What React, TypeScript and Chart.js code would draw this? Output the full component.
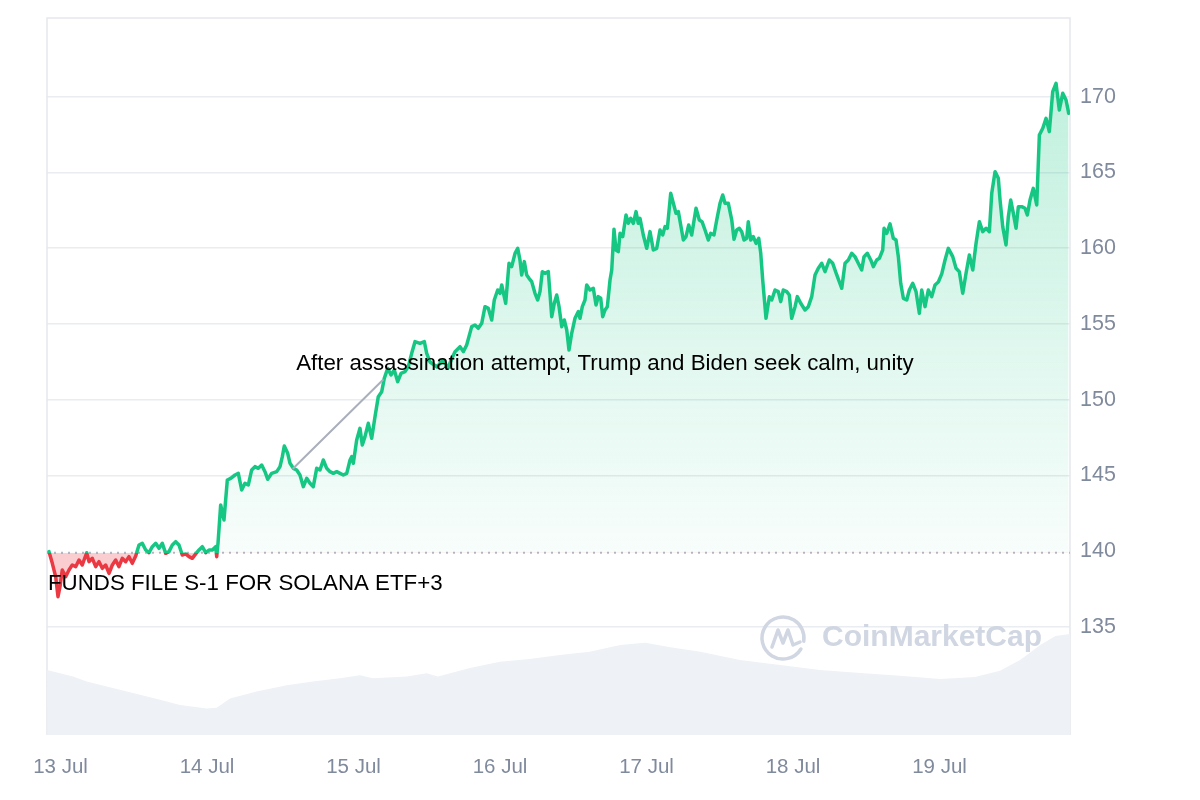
import React, { useEffect, useRef } from 'react';
import { Chart, registerables } from 'chart.js';

Chart.register(...registerables);

// Time in hours since 13 Jul 00:00, SOL price in USD
const hours = [
  -1.88, -1.34, -0.79, -0.41, -0.08, 0.29, 0.85, 1.39, 1.93, 2.49, 3.03, 3.57, 4.29, 4.67, 5.21, 5.77, 6.31, 6.85, 7.4, 7.95,
  8.49, 9.04, 9.58, 10.12, 10.68, 11.22, 11.76, 12.32, 12.86, 13.4, 13.96, 14.5, 15.04, 15.6, 16.14, 16.68, 17.23, 17.77, 18.32, 18.87,
  19.41, 19.95, 20.51, 21.05, 21.59, 22.15, 22.69, 23.23, 23.79, 24.33, 24.87, 25.42, 25.59, 25.8, 26.24, 26.78, 27.33, 27.88, 28.59, 29.13,
  29.68, 30.22, 30.77, 31.32, 31.86, 32.4, 32.96, 33.5, 33.94, 34.6, 35.42, 35.96, 36.34, 36.66, 37.22, 37.6, 38.14, 38.69, 39.23, 39.78,
  40.33, 40.87, 41.41, 41.97, 42.51, 43.05, 43.61, 44.15, 44.69, 45.25, 45.79, 46.33, 46.89, 47.43, 47.7, 47.97, 48.52, 49.06, 49.44, 49.88,
  50.42, 50.98, 51.52, 52.06, 52.62, 53.04, 53.6, 54.14, 54.68, 55.24, 55.78, 56.44, 56.98, 57.53, 58.07, 58.89, 59.6, 59.99, 60.53, 61.68,
  62.66, 63.48, 64.14, 64.63, 65.45, 65.99, 66.54, 67.36, 67.9, 68.44, 69.0, 69.54, 70.08, 70.64, 71.06, 71.62, 72.0, 72.28, 72.93, 73.47,
  73.91, 74.46, 74.9, 75.27, 75.55, 75.98, 76.37, 76.75, 77.19, 77.73, 78.17, 78.55, 78.93, 79.37, 79.91, 80.47, 80.89, 81.29, 81.67, 82.11,
  82.53, 82.93, 83.3, 83.74, 84.28, 84.83, 85.1, 85.48, 85.92, 86.2, 86.74, 87.28, 87.73, 88.1, 88.5, 88.82, 89.2, 89.58, 90.02, 90.3,
  90.67, 91.0, 91.38, 91.66, 92.1, 92.64, 93.02, 93.41, 93.84, 94.28, 94.65, 94.93, 95.47, 96.03, 96.57, 97.11, 97.67, 98.21, 98.65, 99.03,
  99.41, 99.96, 100.39, 100.83, 101.21, 101.6, 102.03, 102.47, 102.91, 103.4, 104.11, 104.65, 105.09, 105.58, 106.12, 106.51, 107.05, 107.5, 108.04, 108.48,
  108.86, 109.4, 109.96, 110.33, 110.77, 111.2, 111.59, 111.97, 112.41, 112.67, 113.07, 113.49, 113.94, 114.38, 114.71, 115.03, 115.57, 116.12, 116.51, 117.05,
  117.59, 117.98, 118.41, 118.97, 119.39, 119.78, 120.33, 120.7, 121.26, 121.96, 122.5, 123.06, 123.6, 124.14, 124.7, 125.24, 125.94, 126.5, 127.16, 127.98,
  128.52, 129.06, 129.61, 130.15, 130.69, 131.25, 131.63, 132.17, 132.73, 133.15, 133.71, 134.14, 134.69, 134.91, 135.35, 135.89, 136.43, 136.87, 137.25, 137.64,
  138.07, 138.63, 139.05, 139.61, 140.15, 140.69, 141.08, 141.62, 142.16, 142.72, 143.26, 143.8, 144.36, 144.9, 145.44, 146.16, 146.7, 147.24, 147.8, 148.34,
  148.88, 149.44, 149.98, 150.52, 151.07, 151.62, 152.16, 152.55, 153.09, 153.63, 153.91, 154.35, 154.89, 155.27, 155.66, 156.09, 156.53, 156.91, 157.46, 158.0,
  158.38, 158.82, 159.36, 159.92, 160.35, 160.91, 161.45, 161.98, 162.54, 163.08, 163.62, 164.18, 164.72, 165.16,
];

const prices = [
  139.97, 139.2, 138.32, 137.0, 137.66, 138.76, 138.32, 138.76, 139.09, 138.98, 139.42, 139.09, 139.9, 139.31, 139.53, 138.98, 139.31, 138.87, 139.09, 138.54,
  139.09, 139.42, 138.98, 139.53, 139.31, 139.64, 139.2, 139.68, 140.41, 140.52, 140.08, 139.9, 140.3, 140.52, 140.19, 140.52, 139.86, 139.97, 140.41, 140.63,
  140.41, 139.75, 139.82, 139.64, 139.53, 139.82, 140.08, 140.3, 139.9, 140.08, 140.08, 140.3, 139.64, 140.52, 143.05, 142.06, 144.7, 144.81, 145.03, 145.14,
  144.04, 144.48, 144.37, 145.36, 145.58, 145.47, 145.69, 145.25, 144.75, 145.14, 145.25, 145.58, 146.24, 146.94, 146.46, 145.8, 145.47, 145.36, 145.03, 144.26,
  144.81, 144.48, 144.26, 145.47, 145.36, 146.02, 145.47, 145.25, 145.14, 145.25, 145.14, 145.03, 145.14, 146.02, 146.24, 145.8, 147.34, 148.11, 147.01, 147.56,
  148.44, 147.45, 148.88, 150.2, 150.53, 151.41, 152.07, 151.63, 151.96, 151.19, 151.74, 151.85, 152.18, 153.06, 153.83, 153.72, 153.83, 153.06, 152.49, 152.16,
  152.62, 152.09, 152.75, 153.17, 153.5, 153.17, 153.61, 154.82, 154.93, 154.71, 155.04, 156.14, 156.03, 155.26, 156.58, 157.24, 157.02, 157.57, 156.36, 159.0,
  158.78, 159.66, 159.99, 159.22, 158.23, 159.11, 158.23, 158.01, 157.79, 157.02, 156.58, 157.13, 158.45, 158.34, 158.45, 155.48, 156.36, 156.91, 156.14, 154.82,
  155.26, 154.6, 153.28, 154.38, 155.37, 155.81, 155.37, 156.14, 156.58, 157.57, 157.24, 157.35, 156.25, 156.8, 156.69, 155.48, 155.92, 156.14, 157.9, 158.56,
  161.25, 159.88, 159.77, 160.98, 160.76, 162.19, 161.64, 161.97, 161.64, 162.41, 161.64, 161.97, 160.87, 159.99, 161.09, 159.88, 159.99, 161.2, 160.87, 161.42,
  161.31, 163.62, 162.96, 162.3, 162.41, 161.53, 160.54, 160.76, 161.53, 160.87, 162.63, 161.86, 161.75, 161.2, 160.54, 160.98, 160.87, 161.86, 162.96, 163.51,
  162.96, 162.96, 161.86, 160.59, 161.2, 161.31, 161.09, 160.54, 160.65, 161.75, 160.54, 160.76, 160.32, 160.65, 159.66, 157.9, 155.37, 156.8, 156.58, 157.24,
  157.13, 156.47, 157.24, 157.13, 156.91, 155.37, 156.14, 156.8, 156.36, 155.92, 156.14, 156.8, 158.23, 158.67, 159.0, 158.45, 159.22, 159.0, 158.23, 157.35,
  159.0, 159.22, 159.66, 159.44, 159.0, 158.56, 159.44, 159.66, 159.22, 158.78, 159.22, 159.33, 159.88, 161.31, 160.98, 161.6, 160.65, 160.54, 159.44, 157.68,
  156.69, 156.58, 157.24, 157.68, 157.13, 155.7, 157.24, 156.14, 157.24, 156.8, 157.57, 157.77, 158.3, 159.22, 159.99, 159.44, 158.67, 158.45, 157.02, 158.34,
  159.55, 158.56, 160.32, 161.75, 161.09, 161.31, 161.09, 163.62, 165.05, 164.61, 163.18, 161.42, 160.21, 162.08, 163.18, 162.3, 161.31, 162.74, 162.74, 162.63,
  162.19, 163.18, 163.95, 162.85, 167.47, 167.91, 168.57, 167.69, 170.33, 170.88, 169.12, 170.22, 169.78, 168.9,
];

// Trading volume (USD billions)
const volumeHours = [
  -2.2, 2.05, 4.29, 7.57, 11.88, 16.3, 19.58, 23.95, 25.59, 27.77, 32.14, 37.06, 41.36, 45.79, 49.06, 51.19, 56.71, 59.99, 61.84, 67.08,
  72.0, 76.9, 81.8, 86.7, 91.7, 95.8, 99.9, 104.8, 111.3, 117.9, 124.4, 131.0, 137.5, 144.1, 149.8, 153.9, 157.2, 160.5, 163.0, 165.4,
];
const volumes = [
  1.81, 1.63, 1.49, 1.35, 1.17, 0.98, 0.84, 0.74, 0.76, 1.02, 1.21, 1.39, 1.49, 1.58, 1.67, 1.58, 1.63, 1.72, 1.63, 1.87,
  2.04, 2.12, 2.23, 2.32, 2.51, 2.57, 2.45, 2.32, 2.09, 1.95, 1.81, 1.73, 1.65, 1.56, 1.62, 1.79, 2.09, 2.51, 2.76, 2.82,
];

const dayTicks = [0, 24, 48, 72, 96, 120, 144];
const dayLabels = ['13 Jul', '14 Jul', '15 Jul', '16 Jul', '17 Jul', '18 Jul', '19 Jul'];
const priceTicks = [135, 140, 145, 150, 155, 160, 165, 170];
const baselinePrice = 139.9;

// News annotations
const noteTexts = ['After assassination attempt, Trump and Biden seek calm, unity', 'FUNDS FILE S-1 FOR SOLANA ETF+3'];
const noteLabelHours = [38.6, -2.05];
const noteLabelPrices = [152.37, 137.84];
const notePointerFromHours = [38.14, null];
const notePointerFromPrices = [145.47, null];
const notePointerToHours = [52.8, null];
const notePointerToPrices = [151.3, null];

const X_MIN = -2.21;
const X_MAX = 165.37;
const Y_MIN = 127.87;
const Y_MAX = 175.19;

const GREEN = '#16c784';
const RED = '#ea3943';
const FONT = '"Liberation Sans", Arial, Helvetica, sans-serif';

const framePlugin = {
  id: 'frame',
  beforeDatasetsDraw(chart: any) {
    const { ctx, chartArea: a } = chart;
    ctx.save();
    ctx.strokeStyle = '#e6e8ec';
    ctx.lineWidth = 1.5;
    ctx.beginPath();
    ctx.moveTo(a.left, a.bottom);
    ctx.lineTo(a.left, a.top);
    ctx.lineTo(a.right, a.top);
    ctx.lineTo(a.right, a.bottom);
    ctx.stroke();
    ctx.restore();
  },
};

const overlayPlugin = {
  id: 'overlay',
  afterDatasetsDraw(chart: any) {
    const { ctx, chartArea: a, scales } = chart;
    const x = scales.x;
    const y = scales.y;
    ctx.save();
    // watermark
    const wmY = a.bottom - 97;
    const lx = a.right - 287;
    ctx.strokeStyle = '#d0d6e2';
    ctx.fillStyle = '#d0d6e2';
    ctx.lineWidth = 3.5;
    ctx.lineCap = 'round';
    ctx.lineJoin = 'round';
    ctx.beginPath();
    ctx.arc(lx, wmY, 21, 0.55, Math.PI * 2 + 0.15);
    ctx.stroke();
    ctx.beginPath();
    ctx.moveTo(lx - 11, wmY + 9);
    ctx.lineTo(lx - 5, wmY - 8);
    ctx.lineTo(lx, wmY + 5);
    ctx.lineTo(lx + 5, wmY - 8);
    ctx.lineTo(lx + 10, wmY + 7);
    ctx.lineTo(lx + 17, wmY + 4);
    ctx.stroke();
    ctx.font = `bold 30px ${FONT}`;
    ctx.textAlign = 'left';
    ctx.textBaseline = 'middle';
    ctx.fillText('CoinMarketCap', lx + 39, wmY);

    // annotations
    for (let i = 0; i < noteTexts.length; i++) {
      const fh = notePointerFromHours[i];
      const th = notePointerToHours[i];
      if (fh !== null && th !== null) {
        ctx.strokeStyle = '#a9afbb';
        ctx.lineWidth = 2;
        ctx.beginPath();
        ctx.moveTo(x.getPixelForValue(fh), y.getPixelForValue(notePointerFromPrices[i] as number));
        ctx.lineTo(x.getPixelForValue(th), y.getPixelForValue(notePointerToPrices[i] as number));
        ctx.stroke();
      }
      ctx.fillStyle = '#000';
      ctx.font = `22.3px ${FONT}`;
      ctx.textAlign = 'left';
      ctx.textBaseline = 'middle';
      ctx.fillText(noteTexts[i], x.getPixelForValue(noteLabelHours[i]), y.getPixelForValue(noteLabelPrices[i]));
    }
    ctx.restore();
  },
};

export default function App() {
  const canvasRef = useRef<HTMLCanvasElement | null>(null);

  useEffect(() => {
    const canvas = canvasRef.current;
    if (!canvas) return;

    const baseFrac = (chart: any) => {
      const a = chart.chartArea;
      const yb = chart.scales.y.getPixelForValue(baselinePrice);
      return Math.min(1, Math.max(0, (yb - a.top) / (a.bottom - a.top)));
    };

    const chart = new Chart(canvas, {
      type: 'line',
      data: {
        datasets: [
          {
            label: 'Price',
            data: hours.map((h, i) => ({ x: h, y: prices[i] })),
            yAxisID: 'y',
            order: 0,
            borderWidth: 3.5,
            pointRadius: 0,
            tension: 0,
            borderJoinStyle: 'round',
            borderCapStyle: 'round',
            borderColor: (c: any) => {
              const chart = c.chart;
              const a = chart.chartArea;
              if (!a) return GREEN;
              const f = baseFrac(chart);
              const g = chart.ctx.createLinearGradient(0, a.top, 0, a.bottom);
              g.addColorStop(0, GREEN);
              g.addColorStop(f, GREEN);
              g.addColorStop(f, RED);
              g.addColorStop(1, RED);
              return g;
            },
            backgroundColor: (c: any) => {
              const chart = c.chart;
              const a = chart.chartArea;
              if (!a) return 'rgba(22,199,132,0.15)';
              const yb = chart.scales.y.getPixelForValue(baselinePrice);
              const g = chart.ctx.createLinearGradient(0, a.top, 0, yb);
              g.addColorStop(0, 'rgba(22,199,132,0.30)');
              g.addColorStop(1, 'rgba(22,199,132,0.03)');
              return g;
            },
            fill: { target: { value: baselinePrice }, below: 'rgba(234,57,67,0.25)' },
          } as any,
          {
            label: 'Open',
            data: [
              { x: X_MIN, y: baselinePrice },
              { x: X_MAX, y: baselinePrice },
            ],
            yAxisID: 'y',
            order: 1,
            borderColor: '#b4bbc8',
            borderWidth: 2,
            borderDash: [2, 5],
            pointRadius: 0,
            fill: false,
          },
          {
            label: 'Volume',
            data: volumeHours.map((h, i) => ({ x: h, y: volumes[i] })),
            yAxisID: 'y2',
            order: 2,
            borderWidth: 0,
            borderColor: 'rgba(0,0,0,0)',
            backgroundColor: '#eef1f5',
            pointRadius: 0,
            tension: 0,
            fill: 'origin',
          },
        ],
      },
      options: {
        responsive: false,
        animation: false,
        devicePixelRatio: 1,
        layout: { padding: { left: 47, top: 18, right: 0, bottom: 0 } },
        plugins: { legend: { display: false }, tooltip: { enabled: false } },
        scales: {
          x: {
            type: 'linear',
            min: X_MIN,
            max: X_MAX,
            afterBuildTicks: (s: any) => {
              s.ticks = dayTicks.map((v) => ({ value: v }));
            },
            afterFit: (s: any) => {
              s.height = 65;
              s.paddingLeft = 0;
              s.paddingRight = 0;
            },
            grid: { display: false, drawTicks: false },
            border: { display: false },
            ticks: {
              autoSkip: false,
              maxRotation: 0,
              padding: 20,
              color: '#808a9d',
              font: { size: 20.5, family: FONT },
              callback: (v: any) => dayLabels[dayTicks.indexOf(Number(v))] ?? '',
            },
          },
          y: {
            type: 'linear',
            position: 'right',
            min: Y_MIN,
            max: Y_MAX,
            afterBuildTicks: (s: any) => {
              s.ticks = priceTicks.map((v) => ({ value: v }));
            },
            afterFit: (s: any) => {
              s.width = 130;
              s.paddingTop = 0;
              s.paddingBottom = 0;
            },
            grid: {
              drawTicks: false,
              lineWidth: 1.5,
              color: (c: any) => (c.tick && c.tick.value === 140 ? 'rgba(0,0,0,0)' : '#e9ecf0'),
            },
            border: { display: false },
            ticks: {
              padding: 10,
              color: '#808a9d',
              font: { size: 21.5, family: FONT },
              callback: (v: any) => String(v),
            },
          },
          y2: {
            type: 'linear',
            display: false,
            min: 0,
            max: 20,
          },
        },
      },
      plugins: [framePlugin, overlayPlugin],
    });

    return () => chart.destroy();
  }, []);

  return (
    <div style={{ position: 'absolute', left: 0, top: 0, width: 1200, height: 800, background: '#fff' }}>
      <canvas ref={canvasRef} width={1200} height={800} style={{ width: 1200, height: 800, display: 'block' }} />
    </div>
  );
}
